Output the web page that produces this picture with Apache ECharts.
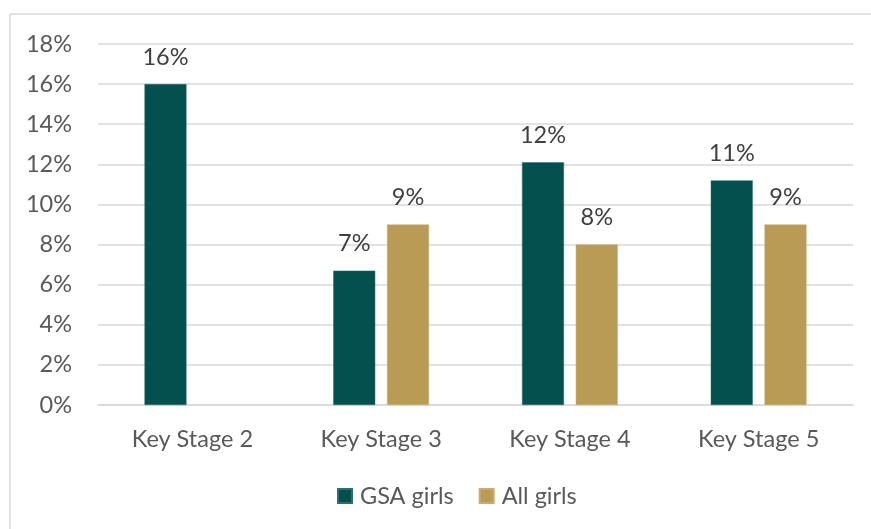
<!DOCTYPE html>
<html><head><meta charset="utf-8">
<script src="https://cdn.jsdelivr.net/npm/echarts@6/dist/echarts.min.js"></script>
<style>html,body{margin:0;padding:0;background:#fff}#c{width:871px;height:529px}</style>
</head><body><div id="c"></div>
<script>
const categories = ['Key Stage 2', 'Key Stage 3', 'Key Stage 4', 'Key Stage 5'];
const gsaGirls = [16.0, 6.7, 12.1, 11.2];
const allGirls = [null, 9.0, 8.0, 9.0];
const seriesNames = ['GSA girls', 'All girls'];
const FONT = 'Lato';
const FS = 23.5;
const chart = echarts.init(document.getElementById('c'), null, {renderer: 'canvas'});
const lbl = {show: true, position: 'top', distance: 15, color: '#404040', fontFamily: FONT, fontSize: FS,
  formatter: p => (p.value == null ? '' : Math.round(p.value) + '%')};
chart.setOption({
  animation: false,
  textStyle: {fontFamily: FONT},
  graphic: [
    {type: 'line', shape: {x1: 10, y1: 14, x2: 880, y2: 14}, style: {stroke: '#d9d9d9', lineWidth: 1.5}, silent: true},
    {type: 'line', shape: {x1: 10, y1: 14, x2: 10, y2: 540}, style: {stroke: '#d9d9d9', lineWidth: 1.5}, silent: true}
  ],
  grid: {left: 98, right: 18, top: 44, bottom: 124, containLabel: false},
  legend: {
    data: seriesNames, bottom: 16, left: 332, itemWidth: 14, itemHeight: 14, itemGap: 25,
    icon: 'rect', textStyle: {color: '#595959', fontSize: FS, fontFamily: FONT, padding: [0, 0, 0, 3]}
  },
  xAxis: {
    type: 'category', data: categories,
    axisLine: {lineStyle: {color: '#d9d9d9', width: 1.5}},
    axisTick: {show: false},
    axisLabel: {color: '#595959', fontSize: FS, fontFamily: FONT, margin: 22}
  },
  yAxis: {
    type: 'value', min: 0, max: 18, interval: 2,
    axisLine: {show: false}, axisTick: {show: false},
    axisLabel: {formatter: '{value}%', color: '#595959', fontSize: FS, fontFamily: FONT, margin: 26},
    splitLine: {lineStyle: {color: '#d9d9d9', width: 1.5}}
  },
  series: [
    {name: seriesNames[0], type: 'bar', data: gsaGirls, barWidth: 42, barGap: '28%',
      itemStyle: {color: '#03504f', borderColor: '#2f6f6e', borderWidth: 0.5}, label: lbl},
    {name: seriesNames[1], type: 'bar', data: allGirls, barWidth: 42,
      itemStyle: {color: '#b99b56', borderColor: '#c9ad70', borderWidth: 0.5}, label: lbl}
  ]
});
</script></body></html>
